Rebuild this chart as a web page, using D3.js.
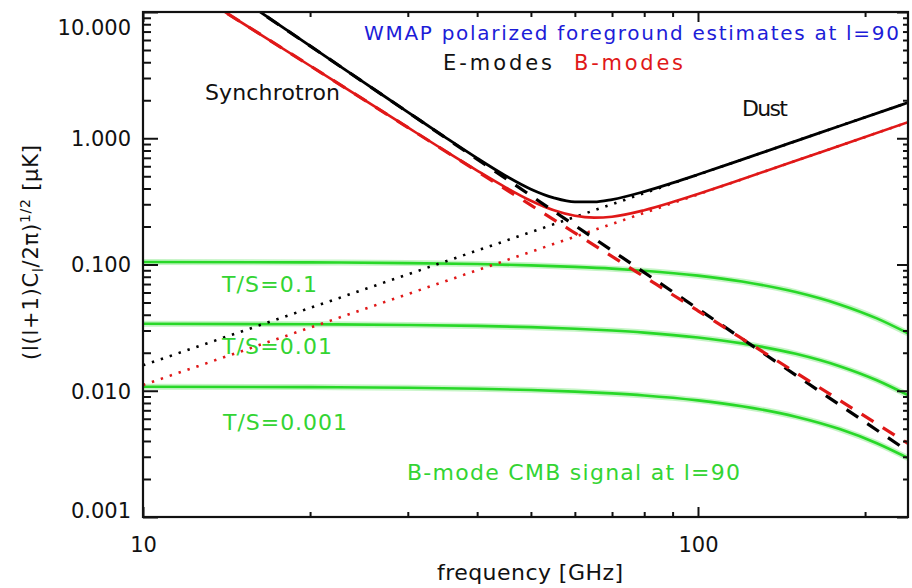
<!DOCTYPE html>
<html>
<head>
<meta charset="utf-8">
<script src="https://cdn.jsdelivr.net/npm/d3@7"></script>
<style>
  html, body { margin: 0; padding: 0; background: #fff; }
  svg { display: block; font-family: "DejaVu Sans", sans-serif; }
</style>
</head>
<body>
<svg id="chart" width="912" height="588"></svg>
<script>
// Frequencies (GHz) at which the total foreground amplitudes are sampled
const freqTotal = [14, 16, 20, 25, 30, 35, 40, 45, 50, 55, 60, 65, 70, 80, 90, 100, 120, 150, 180, 239];
// Total foreground (synchrotron + dust), E-modes and B-modes, in uK
const eTotal = [15.6, 10.5, 5.39, 2.773, 1.611, 1.021, 0.695, 0.505, 0.395, 0.337, 0.313, 0.313, 0.327, 0.378, 0.443, 0.516, 0.678, 0.949, 1.250, 1.918];
const bTotal = [10.1, 6.97, 3.752, 2.021, 1.218, 0.796, 0.555, 0.409, 0.320, 0.269, 0.243, 0.235, 0.239, 0.269, 0.312, 0.362, 0.474, 0.663, 0.873, 1.339];

// Synchrotron power laws (dashed)
const freqSync = [10, 100, 239];
const eSync = [42.5, 0.0445, 0.00332];
const bSync = [25.7, 0.0430, 0.00382];

// Dust power laws (dotted)
const freqDust = [10, 100, 239];
const eDust = [0.0159, 0.5145, 1.918];
const bDust = [0.0111, 0.359, 1.339];

// B-mode CMB signal at l=90 for three tensor-to-scalar ratios
const freqCmb = [10, 20, 30, 40, 50, 60, 70, 80, 100, 120, 150, 180, 210, 239];
const cmbTS01 = [0.1047, 0.1039, 0.1026, 0.1008, 0.0985, 0.0957, 0.0927, 0.0892, 0.0816, 0.0733, 0.0605, 0.0483, 0.0374, 0.0285];
const cmbTS001 = [0.0339, 0.03365, 0.0332, 0.03263, 0.03189, 0.0310, 0.0300, 0.02889, 0.02642, 0.02373, 0.0196, 0.01564, 0.0121, 0.00922];
const cmbTS0001 = [0.01077, 0.01069, 0.01055, 0.01036, 0.01013, 0.00985, 0.00953, 0.00918, 0.00839, 0.00754, 0.00623, 0.00497, 0.00384, 0.00293];

// Axis ticks
const yMajorTicks = [0.001, 0.01, 0.1, 1, 10];
const yMinorTicks = [0.002, 0.003, 0.004, 0.005, 0.006, 0.007, 0.008, 0.009,
                     0.02, 0.03, 0.04, 0.05, 0.06, 0.07, 0.08, 0.09,
                     0.2, 0.3, 0.4, 0.5, 0.6, 0.7, 0.8, 0.9,
                     2, 3, 4, 5, 6, 7, 8, 9];
const xMajorTicks = [10, 100];
const xMinorTicks = [20, 30, 40, 50, 60, 70, 80, 90, 200];

const svg = d3.select("#chart");
const plotLeft = 143, plotRight = 908, plotTop = 12, plotBottom = 517;

const x = d3.scaleLog().domain([10, 239]).range([plotLeft, plotRight]);
const y = d3.scaleLog().domain([0.001, 10]).range([plotBottom, plotTop]);

svg.append("defs").append("clipPath").attr("id", "plotclip")
  .append("rect").attr("x", plotLeft).attr("y", plotTop)
  .attr("width", plotRight - plotLeft).attr("height", plotBottom - plotTop);

const plot = svg.append("g").attr("clip-path", "url(#plotclip)");

const line = d3.line()
  .x(d => x(d[0]))
  .y(d => y(d[1]))
  .curve(d3.curveMonotoneX);

const pairs = (fs, vs) => fs.map((f, i) => [f, vs[i]]);

// CMB signal curves with soft halo
[cmbTS01, cmbTS001, cmbTS0001].forEach(vals => {
  plot.append("path").attr("d", line(pairs(freqCmb, vals)))
    .attr("fill", "none").attr("stroke", "#aef0ae").attr("stroke-width", 6).attr("opacity", 0.7);
  plot.append("path").attr("d", line(pairs(freqCmb, vals)))
    .attr("fill", "none").attr("stroke", "#28d828").attr("stroke-width", 2.6);
});

// Dust (dotted)
plot.append("path").attr("d", line(pairs(freqDust, bDust)))
  .attr("fill", "none").attr("stroke", "#e01818").attr("stroke-width", 2.6)
  .attr("stroke-dasharray", "2.4,7");
plot.append("path").attr("d", line(pairs(freqDust, eDust)))
  .attr("fill", "none").attr("stroke", "#000").attr("stroke-width", 2.6)
  .attr("stroke-dasharray", "2.4,7");

// Totals (solid)
plot.append("path").attr("d", line(pairs(freqTotal, bTotal)))
  .attr("fill", "none").attr("stroke", "#e01818").attr("stroke-width", 2.6);
plot.append("path").attr("d", line(pairs(freqTotal, eTotal)))
  .attr("fill", "none").attr("stroke", "#000").attr("stroke-width", 2.8);

// Synchrotron (dashed)
plot.append("path").attr("d", line(pairs(freqSync, eSync)))
  .attr("fill", "none").attr("stroke", "#000").attr("stroke-width", 3.2)
  .attr("stroke-dasharray", "14,11");
plot.append("path").attr("d", line(pairs(freqSync, bSync)))
  .attr("fill", "none").attr("stroke", "#e01818").attr("stroke-width", 3.2)
  .attr("stroke-dasharray", "14,11");

// Axes: ticks point inward on all four sides
function styleAxis(g) {
  g.select(".domain").remove();
  g.selectAll(".tick line").attr("stroke", "#111").attr("stroke-width", 2);
  g.selectAll(".tick text").attr("fill", "#111").attr("font-size", 21)
    .attr("font-family", "DejaVu Sans, sans-serif");
}

const yLeftMajor = svg.append("g").attr("transform", `translate(${plotLeft},0)`)
  .call(d3.axisLeft(y).tickValues(yMajorTicks).tickSize(-15).tickPadding(12)
    .tickFormat(d3.format(".3f")))
  .call(styleAxis);
yLeftMajor.selectAll(".tick text")
  .attr("dy", d => d === 10 ? "1.05em" : d === 0.001 ? "0.0em" : "0.35em");
svg.append("g").attr("transform", `translate(${plotLeft},0)`)
  .call(d3.axisLeft(y).tickValues(yMinorTicks).tickSize(-8).tickFormat(""))
  .call(styleAxis);

svg.append("g").attr("transform", `translate(${plotRight},0)`)
  .call(d3.axisRight(y).tickValues(yMajorTicks).tickSize(-11).tickFormat(""))
  .call(styleAxis);
svg.append("g").attr("transform", `translate(${plotRight},0)`)
  .call(d3.axisRight(y).tickValues(yMinorTicks).tickSize(-5).tickFormat(""))
  .call(styleAxis);

svg.append("g").attr("transform", `translate(0,${plotBottom})`)
  .call(d3.axisBottom(x).tickValues(xMajorTicks).tickSize(-10).tickPadding(20)
    .tickFormat(d3.format("d")))
  .call(styleAxis);
svg.append("g").attr("transform", `translate(0,${plotBottom})`)
  .call(d3.axisBottom(x).tickValues(xMinorTicks).tickSize(-5).tickFormat(""))
  .call(styleAxis);
svg.append("g").attr("transform", `translate(0,${plotTop})`)
  .call(d3.axisTop(x).tickValues(xMajorTicks).tickSize(-10).tickFormat(""))
  .call(styleAxis);
svg.append("g").attr("transform", `translate(0,${plotTop})`)
  .call(d3.axisTop(x).tickValues(xMinorTicks).tickSize(-5).tickFormat(""))
  .call(styleAxis);

// Plot frame
svg.append("rect").attr("x", plotLeft).attr("y", plotTop)
  .attr("width", plotRight - plotLeft).attr("height", plotBottom - plotTop)
  .attr("fill", "none").attr("stroke", "#111").attr("stroke-width", 2.2);

// Annotations
const notes = [
  { t: "WMAP polarized foreground estimates at l=90", x: 364, y: 40, w: 535, s: 20, c: "#1c1cd8" },
  { t: "E-modes", x: 443, y: 70, w: 109, s: 21, c: "#111" },
  { t: "B-modes", x: 574, y: 70, w: 109, s: 21, c: "#e01818" },
  { t: "Synchrotron", x: 205, y: 100, w: 135, s: 22, c: "#111" },
  { t: "Dust", x: 742, y: 116, w: 46, s: 22, c: "#111" },
  { t: "T/S=0.1", x: 222, y: 292, w: 95, s: 22, c: "#33d433" },
  { t: "T/S=0.01", x: 222, y: 354, w: 110, s: 22, c: "#33d433" },
  { t: "T/S=0.001", x: 223, y: 430, w: 124, s: 22, c: "#33d433" },
  { t: "B-mode CMB signal at l=90", x: 407, y: 480, w: 333, s: 22, c: "#33d433" },
  { t: "frequency [GHz]", x: 437, y: 580, w: 186, s: 22, c: "#111" }
];
svg.append("g").selectAll("text").data(notes).join("text")
  .attr("x", d => d.x).attr("y", d => d.y)
  .attr("font-size", d => d.s).attr("fill", d => d.c)
  .attr("textLength", d => d.w).attr("lengthAdjust", "spacing")
  .text(d => d.t);

// Y axis title
const yTitle = svg.append("text")
  .attr("transform", "translate(38,360) rotate(-90)")
  .attr("font-size", 21).attr("fill", "#111")
  .attr("textLength", 215).attr("lengthAdjust", "spacing");
yTitle.append("tspan").text("(l(l+1)C");
yTitle.append("tspan").attr("font-size", 14).attr("dy", 5).text("l");
yTitle.append("tspan").attr("dy", -5).text("/2π)");
yTitle.append("tspan").attr("font-size", 14).attr("dy", -8).text("1/2");
yTitle.append("tspan").attr("dy", 8).text(" [μK]");
</script>
</body>
</html>
